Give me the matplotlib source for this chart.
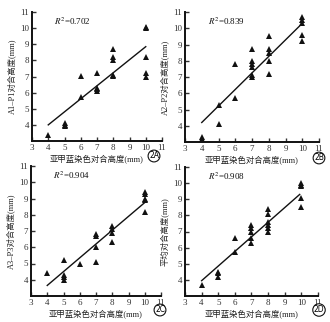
import matplotlib.pyplot as plt

plt.rcParams["font.family"] = ["Liberation Serif", "Noto Sans CJK SC", "DejaVu Sans"]
plt.rcParams["mathtext.fontset"] = "stix"

INK = "#111111"

# shared x values per panel (methylene blue staining height)
xa = [4, 5, 5, 5, 6, 6, 7, 7, 7, 7, 8, 8, 8, 8, 8, 10, 10, 10, 10, 10]
ya = [3.35, 4.1, 4.0, 3.9, 7.05, 5.75, 7.2, 6.3, 6.2, 6.1, 8.7, 8.2, 8.0, 7.1, 7.05, 10.1, 10.0, 8.2, 7.2, 7.0]

xb = [4, 4, 5, 5, 6, 6, 7, 7, 7, 7, 7, 7, 8, 8, 8, 8, 8, 10, 10, 10, 10, 10]
yb = [3.3, 3.2, 5.3, 4.1, 7.8, 5.7, 8.7, 8.0, 7.8, 7.6, 7.1, 7.0, 9.5, 8.7, 8.5, 8.0, 7.2, 10.7, 10.5, 10.3, 9.6, 9.2]

xc = [4, 5, 5, 5, 5, 6, 7, 7, 7, 7, 8, 8, 8, 8, 10, 10, 10, 10, 10]
yc = [4.4, 5.2, 4.3, 4.2, 4.0, 5.0, 6.8, 6.7, 6.0, 5.1, 7.3, 7.1, 6.9, 6.3, 9.4, 9.3, 9.0, 8.9, 8.2]

xd = [4, 5, 5, 5, 6, 6, 7, 7, 7, 7, 7, 8, 8, 8, 8, 8, 8, 10, 10, 10, 10, 10]
yd = [3.7, 4.5, 4.4, 4.2, 6.6, 5.75, 7.4, 7.2, 7.0, 6.6, 6.3, 8.4, 8.1, 7.6, 7.4, 7.2, 7.0, 10.0, 9.9, 9.8, 9.1, 8.5]

# fitted line endpoints
fit_x = [[4, 10], [4, 10], [4, 10], [4, 9.9]]
fit_y = [[4.0, 8.85], [4.2, 10.3], [3.65, 8.75], [3.95, 9.3]]

r2 = ["0.702", "0.839", "0.904", "0.908"]
ylabels = ["A1–P1对合高度(mm)", "A2–P2对合高度(mm)", "A3–P3对合高度(mm)", "平均对合高度(mm)"]
xlabel = "亚甲蓝染色对合高度(mm)"
tags = ["2A", "2B", "2C", "2D"]

W, H = 330, 322
# axes boxes in pixels: left, right, top, bottom
boxes = [(32, 162, 12, 141), (185, 319, 12, 142), (31, 161, 166, 296), (185, 318, 167, 296)]
tag_pos = [(154, 156), (319, 158), (160, 310), (319, 310)]

fig = plt.figure(figsize=(W / 100, H / 100), dpi=100)

data = [(xa, ya), (xb, yb), (xc, yc), (xd, yd)]
for i, ((x, y), (l, r, t, b)) in enumerate(zip(data, boxes)):
    ax = fig.add_axes([l / W, 1 - b / H, (r - l) / W, (b - t) / H])
    ax.plot(x, y, "^", color=INK, ms=3.8, mew=0)
    ax.plot(fit_x[i], fit_y[i], color=INK, lw=1.0)
    ax.set_xlim(3, 11)
    ax.set_ylim(3, 11)
    ax.set_xticks(range(3, 12))
    ax.set_yticks(range(4, 12))
    ax.tick_params(direction="in", length=3, width=1, labelsize=6.5, pad=2, colors="#333333")
    for s in ["top", "right"]:
        ax.spines[s].set_visible(False)
    for s in ["left", "bottom"]:
        ax.spines[s].set_linewidth(1.4)
        ax.spines[s].set_color(INK)
    ax.set_xlabel(xlabel, fontsize=6, labelpad=2, color="#222222")
    ax.set_ylabel(ylabels[i], fontsize=6, labelpad=3, color="#222222")
    ax.text(0.17, 0.93, "$R^2$=" + r2[i], transform=ax.transAxes, fontsize=6.5,
            ha="left", va="center", color=INK)
    tx, ty = tag_pos[i]
    fig.text(tx / W, 1 - ty / H, tags[i], fontsize=5.5, ha="center", va="center",
             family=["DejaVu Sans"],
             bbox=dict(boxstyle="circle,pad=0.12", fc="white", ec=INK, lw=0.8))

fig.savefig("out.png", dpi=100)
